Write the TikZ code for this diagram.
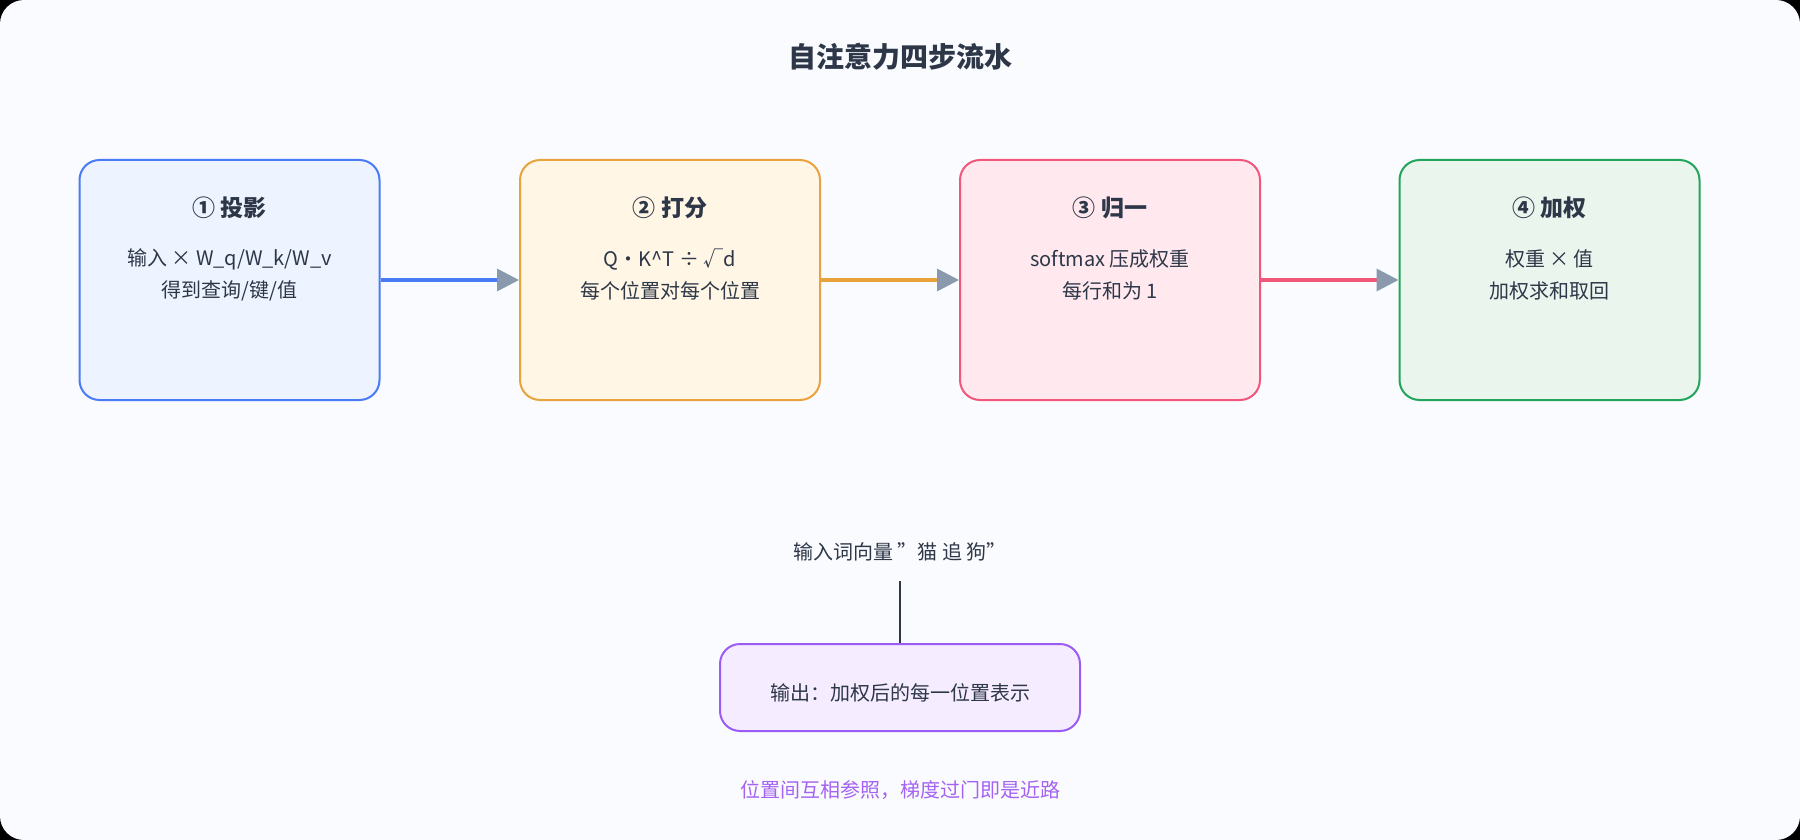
\documentclass[tikz,border=0pt]{standalone}
\usepackage{fontspec}
\setmainfont{Noto Sans CJK SC}
\usetikzlibrary{positioning,arrows.meta}
\definecolor{ink}{HTML}{2D3748}
\definecolor{bgc}{HTML}{FAFBFE}
\definecolor{arrowgray}{HTML}{8A9AAD}
\definecolor{blueline}{HTML}{4A7BF7}\definecolor{bluefill}{HTML}{EEF4FF}
\definecolor{orangeline}{HTML}{E8A33D}\definecolor{orangefill}{HTML}{FFF6E5}
\definecolor{pinkline}{HTML}{F0577A}\definecolor{pinkfill}{HTML}{FFE8EE}
\definecolor{greenline}{HTML}{22A55B}\definecolor{greenfill}{HTML}{EAF5EE}
\definecolor{purpleline}{HTML}{9B5CF6}\definecolor{purplefill}{HTML}{F6ECFF}
\definecolor{purpletext}{HTML}{A463F2}
\begin{document}
\begin{tikzpicture}[x=0.5pt,y=-0.5pt,
	stage/.style={draw,line width=1pt,rounded corners=10pt,minimum width=150pt,minimum height=120pt,inner sep=0pt},
	head/.style={font=\fontsize{11.5}{14}\selectfont\bfseries,text=ink},
	body/.style={font=\fontsize{10}{12}\selectfont,text=ink,align=center},
	flow/.style={line width=1.8pt,-{Triangle[length=11pt,width=11pt,color=arrowgray]}}]

	\fill[black] (0,0) rectangle (1800,840);
	\fill[bgc,rounded corners=12pt] (0,0) rectangle (1800,840);
	\useasboundingbox (0,0) rectangle (1800,840);

	\node[font=\fontsize{14}{16}\selectfont\bfseries,text=ink] (title) at (900,57) {自注意力四步流水};

	\node[stage,draw=blueline,fill=bluefill]		(s1)	at (229.5,280)	{};
	\node[stage,draw=orangeline,fill=orangefill]	(s2)	at (670,280)	{};
	\node[stage,draw=pinkline,fill=pinkfill]		(s3)	at (1110,280)	{};
	\node[stage,draw=greenline,fill=greenfill]		(s4)	at (1549.5,280)	{};

	\node[head] (h1) at (229.5,208)	{① 投影};
	\node[head] (h2) at (670,208)	{② 打分};
	\node[head] (h3) at (1110,208)	{③ 归一};
	\node[head] (h4) at (1549.5,208)	{④ 加权};

	\node[body] (b1) at (229.5,275)	{输入 × W\_q/W\_k/W\_v\\[4pt]得到查询/键/值};
	\node[body] (b2) at (670,275)	{Q·K\^{}T ÷ √d\\[4pt]每个位置对每个位置};
	\node[body] (b3) at (1110,275)	{softmax 压成权重\\[4pt]每行和为 1};
	\node[body] (b4) at (1549.5,275)	{权重 × 值\\[4pt]加权求和取回};

	\draw[flow,blueline]	(s1) -- (s2);
	\draw[flow,orangeline]	(s2) -- (s3);
	\draw[flow,pinkline]	(s3) -- (s4);

	\node[body] (inp) at (900,552) {输入词向量 "猫 追 狗"};
	\node[stage,draw=purpleline,fill=purplefill,minimum width=180pt,minimum height=43.5pt] (out) at (900,687.5) {};
	\node[body] (outtext) at (900,693) {输出：加权后的每一位置表示};
	\coordinate (link) at (900,581);
	\draw[ink,line width=1.4pt] (link) -- (out.north);

	\node[font=\fontsize{10}{12}\selectfont,text=purpletext] (note) at (900,790) {位置间互相参照，梯度过门即是近路};
\end{tikzpicture}
\end{document}
